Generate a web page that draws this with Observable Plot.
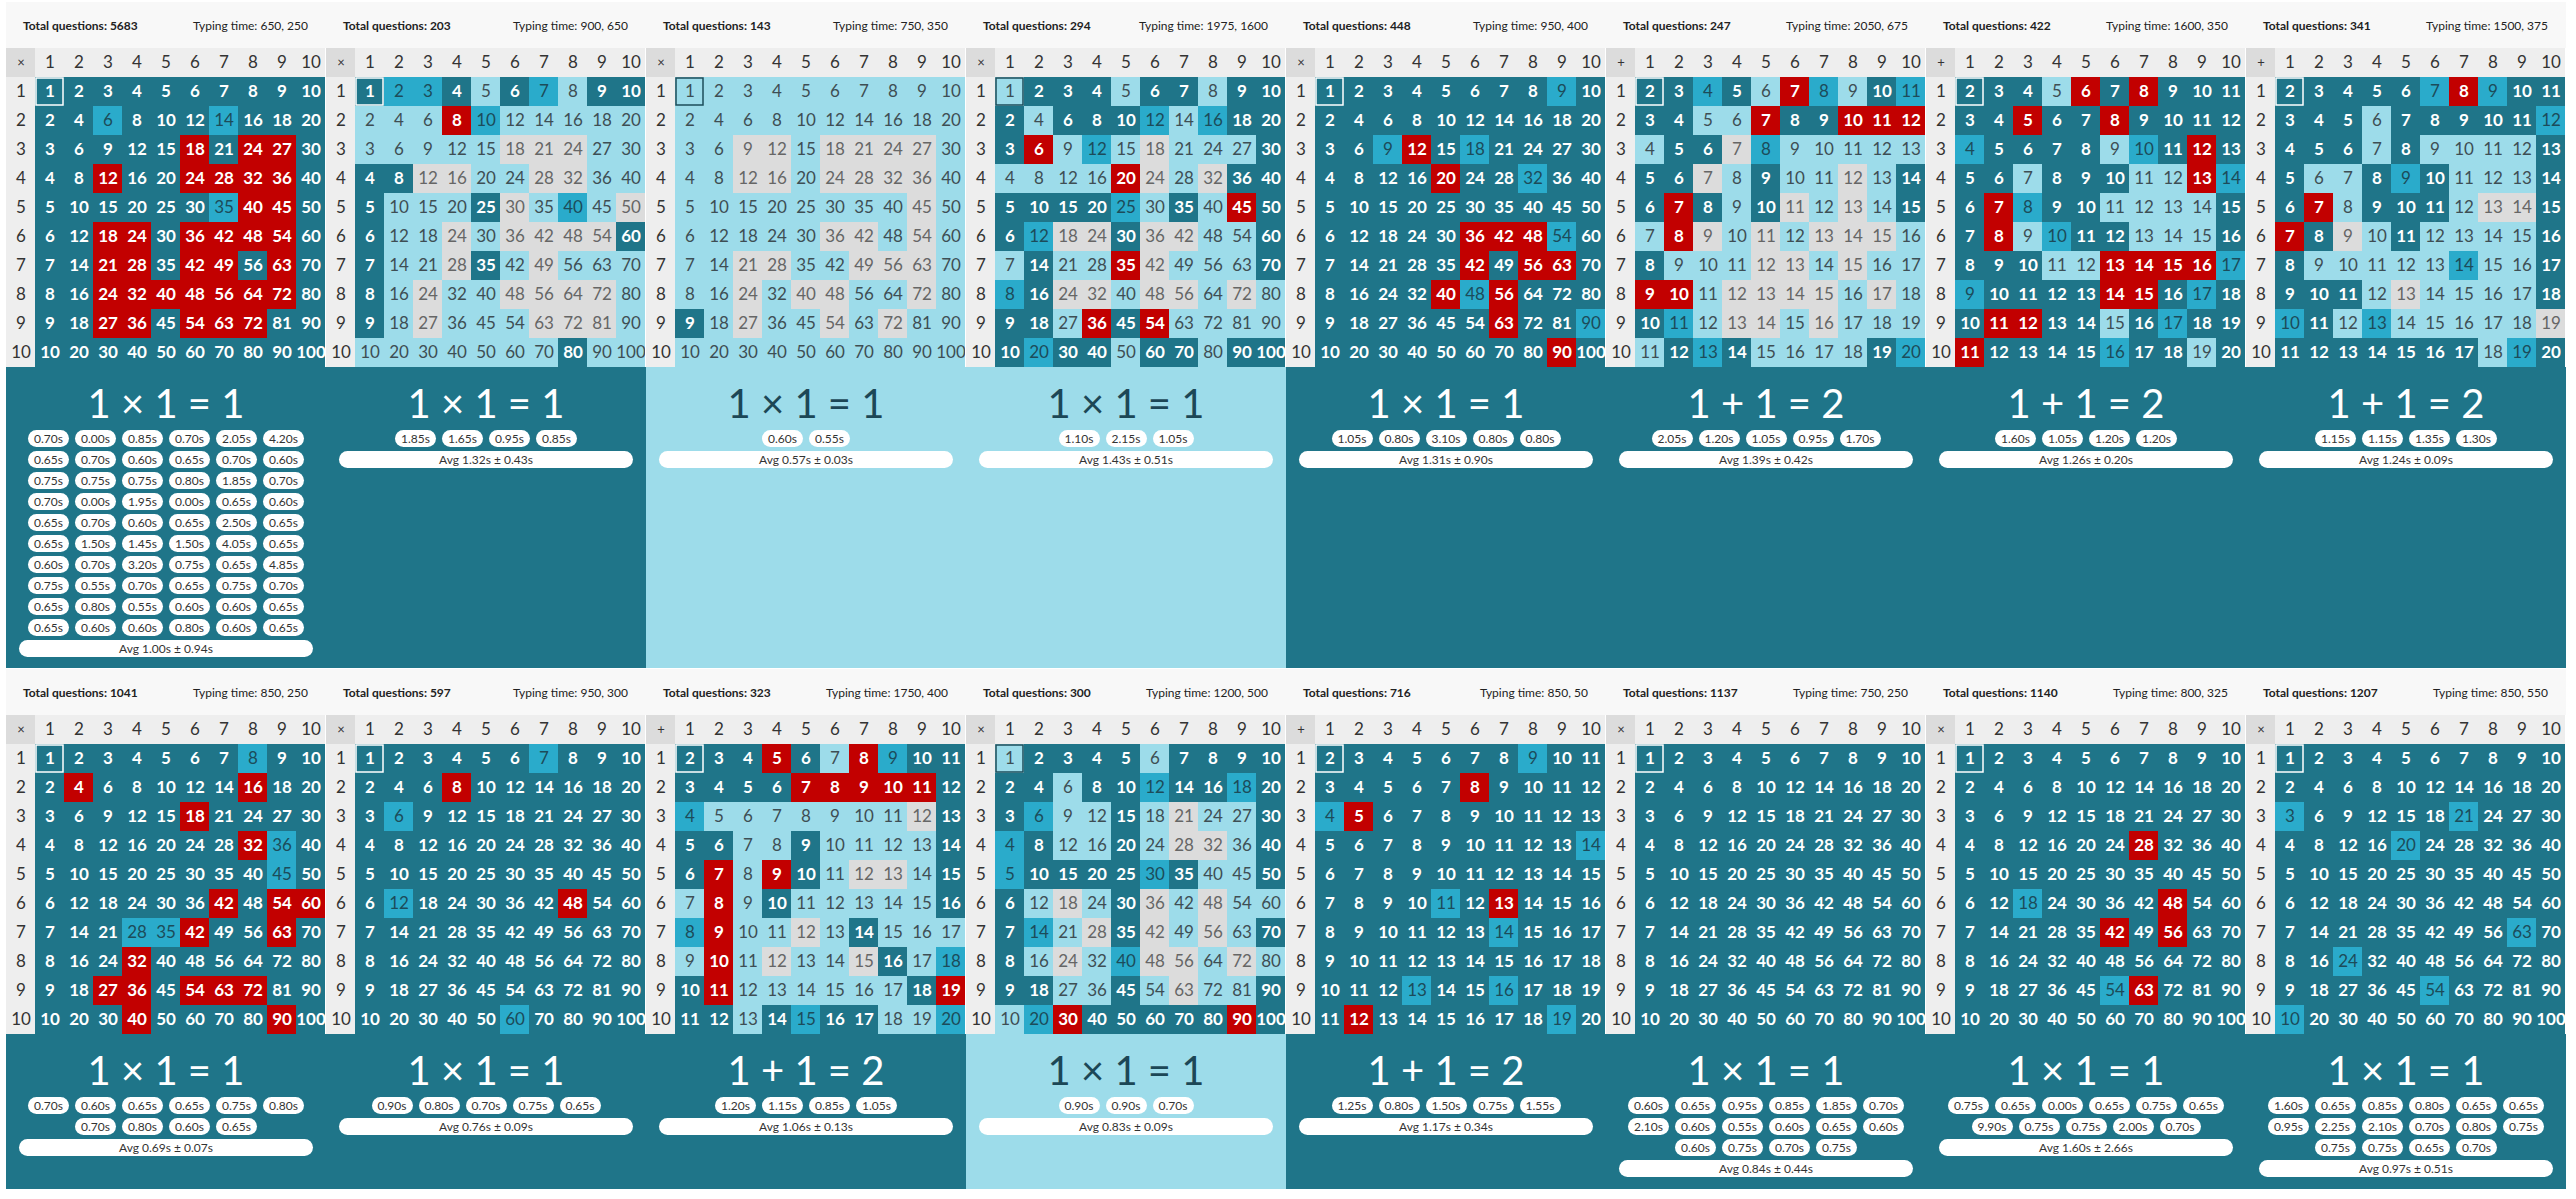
<!DOCTYPE html>
<html><head><meta charset="utf-8">
<script src="https://cdn.jsdelivr.net/npm/d3@7"></script>
<script src="https://cdn.jsdelivr.net/npm/@observablehq/plot@0.6"></script>
<style>
body{margin:0;background:#fff;font-family:Lato,"Noto Sans",sans-serif;}
#root{position:absolute;left:6px;top:2px;}
.row{display:flex;}
.row2{margin-top:1px;}
.panel{width:320px;display:flex;flex-direction:column;}
.hdr{height:46px;background:#f8f8f8;display:flex;justify-content:space-between;align-items:center;padding:0 18px 0 17px;font-size:12px;color:#222;box-sizing:border-box;}
.hdr b{font-weight:700;}
.grid{height:319px;width:320px;background:#fff;}
.grid svg{display:block;}
.bottom{box-sizing:border-box;padding-top:10px;text-align:center;}
.eq{font-size:40px;line-height:52px;height:52px;}
.pills{width:290px;margin:1px auto 0;display:flex;flex-wrap:wrap;justify-content:center;gap:4px 6px;}
.pill{width:41px;height:17px;line-height:17px;border-radius:8.5px;background:#fff;color:#333;font-size:12px;}
.avg{width:294px;height:17px;line-height:17px;border-radius:8.5px;background:#fff;color:#333;font-size:12px;margin:4px auto 0;}
</style>
</head>
<body>
<div id="root"></div>
<script>
// ---- data ----
const labels = [1,2,3,4,5,6,7,8,9,10];
const ops = ["×","×","×","×","×","+","+","+","×","×","+","×","+","×","×","×"];
const totals = [5683,203,143,294,448,247,422,341,1041,597,323,300,716,1137,1140,1207];
const typing = [[650,250],[900,650],[750,350],[1975,1600],[950,400],[2050,675],[1600,350],[1500,375],
                [850,250],[950,300],[1750,400],[1200,500],[850,50],[750,250],[800,325],[850,550]];
// cell categories: D dark, M medium, L light, G gray, R red
const grids = [
 ["DDDDDDDDDD","DDMDDDMDDD","DDDDDRDRRD","DDRDDRRRRD","DDDDDDMRRD","DDRRDRRRRD","DDRRDRRDRD","DDRRRRRRRD","DDRRDRRRDD","DDDDDDDDDD"],
 ["DMMDLDMLDD","LLLRMLLLLL","LLLLLGGGLL","DDGGLLGGLL","DLLLDGLMLG","DLLGLGGGGD","DLLGDLGLLL","DLGLLGGGGL","DLGLLLGGGL","LLLLLLLDLL"],
 ["LLLLLLLLLL","LLLLLLLLLL","LLGGLGGGGL","LLGGLGGGGL","LLLLLLLLGL","LLLLLGGLGL","LLGGLLGGGL","LLGLGGLLGL","DLGLLGLGLL","LLLLLLLLLL"],
 ["LDDDLDDLDD","DLDDDMLMDD","DRLMLGLLLD","LLLLRGLGDD","DDDDMLDLRD","DMGGDGGLLD","LDLLRGLLLD","MDGGLGGLGL","DDLRDRLLLL","DMDDLDDLDD"],
 ["DDDDDDDDMD","DDDDDDDDDD","DDMRDMDDDD","DDDDRDDMDD","DDDDDDDDDD","DDDDDRRRMD","DDDDDRDRRD","DDDDRMRDDD","DDDDDDRDDM","DDDDDDDDRD"],
 ["DDMDLRMLDM","DDLLRDDRRR","LDDGMLLLLL","DDGLDLLGLD","DRDLDGLGLD","LRGLGLGGGL","DLLLGGLGLL","RRLGGGGLGL","DMLGGLGLLL","LDMDLLLLDM"],
 ["DDDLRDRDDD","DDRDDRDDDD","MDDDDLMDRD","DDLDDDLLRM","DRMDDLLLLD","DRLMDDLLLD","DDDLLRRRRM","MDDDDRRDMD","DRRDDLDMDD","RDDDDMDDLD"],
 ["DDDDDMRMDD","DDDLDDDDDM","DDDLDLLLLD","DLLDMDLLLD","DRLDDDLGGD","RDGLDLLLLD","DLLLLLMLLD","DDDLGLLLLD","MDLMLLLLLG","DDDDDDDLMD"],
 ["DDDDDDDMDD","DRDDDDDRDD","DDDDDRDDDD","DDDDDDDRMD","DDDDDDDDMD","DDDDDDRDRR","DDDMMRDDRD","DDDRDDDDDD","DDRRDRRRDD","DDDRDDDDRD"],
 ["DDDDDDMDDD","DDDRDDDDDD","DMDDDDDDDD","DDDDDDDDDD","DDDDDDDDDD","DMDDDDDRDD","DDDDDDDDDD","DDDDDDDDDD","DDDDDDDDDD","DDDDDMDDDD"],
 ["DDDRDLRMDD","DDDDRRRRRD","MLLLLLLLGD","DDLLDLLLLD","DRLRDLGGLD","LRLDLLLLLD","MRLLGLDLLL","LRLGLLGDLM","DRLLLLLLDR","DDLDMDDLLM"],
 ["LDDDDLDDDD","DDLDDMDDMD","DMLLDLGLLD","MDLLDLGGLD","MDDDDMDLLD","DLGLDGLGLL","DMLGDGLGLD","DLGLMGGLGL","DDLLDLGLLD","LMRDDDDDRD"],
 ["DDDDDDDMDD","DDDDDRDDDD","MRDDDDDDDD","DDDDDDDDDM","DDDDDDDDDD","DDDDMDRDDD","DDDDDDMDDD","DDDDDDDDDD","DDDMDDMDDD","DRDDDDDDMD"],
 ["DDDDDDDDDD","DDDDDDDDDD","DDDDDDDDDD","DDDDDDDDDD","DDDDDDDDDD","DDDDDDDDDD","DDDDDDDDDD","DDDDDDDDDD","DDDDDDDDDD","DDDDDDDDDD"],
 ["DDDDDDDDDD","DDDDDDDDDD","DDDDDDDDDD","DDDDDDRDDD","DDDDDDDDDD","DDMDDDDRDD","DDDDDRDRDD","DDDDDDDDDD","DDDDDMRDDD","DDDDDDDDDD"],
 ["DDDDDDDDDD","DDDDDDDDDD","MDDDDDMDDD","DDDDMDDDDD","DDDDDDDDDD","DDDDDDDDDD","DDDDDDDDMD","DDMDDDDDDD","DDDDDMDDDD","MDDDDDDDDD"]
];
const times = [
 [0.70,0.00,0.85,0.70,2.05,4.20,0.65,0.70,0.60,0.65,0.70,0.60,0.75,0.75,0.75,0.80,1.85,0.70,0.70,0.00,1.95,0.00,0.65,0.60,
  0.65,0.70,0.60,0.65,2.50,0.65,0.65,1.50,1.45,1.50,4.05,0.65,0.60,0.70,3.20,0.75,0.65,4.85,0.75,0.55,0.70,0.65,0.75,0.70,
  0.65,0.80,0.55,0.60,0.60,0.65,0.65,0.60,0.60,0.80,0.60,0.65],
 [1.85,1.65,0.95,0.85],
 [0.60,0.55],
 [1.10,2.15,1.05],
 [1.05,0.80,3.10,0.80,0.80],
 [2.05,1.20,1.05,0.95,1.70],
 [1.60,1.05,1.20,1.20],
 [1.15,1.15,1.35,1.30],
 [0.70,0.60,0.65,0.65,0.75,0.80,0.70,0.80,0.60,0.65],
 [0.90,0.80,0.70,0.75,0.65],
 [1.20,1.15,0.85,1.05],
 [0.90,0.90,0.70],
 [1.25,0.80,1.50,0.75,1.55],
 [0.60,0.65,0.95,0.85,1.85,0.70,2.10,0.60,0.55,0.60,0.65,0.60,0.60,0.75,0.70,0.75],
 [0.75,0.65,0.00,0.65,0.75,0.65,9.90,0.75,0.75,2.00,0.70],
 [1.60,0.65,0.85,0.80,0.65,0.65,0.95,2.25,2.10,0.70,0.80,0.75,0.75,0.75,0.65,0.70]
];
const avgMean = [1.00,1.32,0.57,1.43,1.31,1.39,1.26,1.24,0.69,0.76,1.06,0.83,1.17,0.84,1.60,0.97];
const avgSd   = [0.94,0.43,0.03,0.51,0.90,0.42,0.20,0.09,0.07,0.09,0.13,0.09,0.34,0.44,2.66,0.51];
const summaryShade = ["D","D","L","L","D","D","D","D","D","D","D","L","D","D","D","D"];

// ---- styles ----
const palette = {D:"#1f7589", M:"#2aabcb", L:"#9ddcea", G:"#dcdcdc", R:"#c20000", H:"#eeeeee", C:"#dcdcdc"};
const textPalette = {M:"#1c4c5a", L:"#3e4e54", G:"#666666"};
const outline = {D:"#ffffff", M:"#ffffff", R:"#ffffff", L:"#1c4c5a", G:"#1c4c5a"};
const eqColor = {D:"#ffffff", L:"#1c4756"};

function gridPlot(p) {
  const op = ops[p], g = grids[p];
  const hdr = [{r:0, c:0, k:"C", t:op}];
  for (const v of labels) {
    hdr.push({r:0, c:v, k:"H", t:String(v)});
    hdr.push({r:v, c:0, k:"H", t:String(v)});
  }
  const cells = [];
  labels.forEach((r, i) => labels.forEach((c, j) =>
    cells.push({r, c, k:g[i][j], t:String(op === "×" ? r * c : r + c)})));
  const first = cells.filter(d => d.r === 1 && d.c === 1);
  const bright = d => d.k === "D" || d.k === "R";
  return Plot.plot({
    width: 319, height: 319, margin: 0,
    x: {type: "band", domain: [0, ...labels], padding: 0, axis: null},
    y: {type: "band", domain: [0, ...labels], padding: 0, axis: null},
    color: {type: "identity"},
    style: {fontFamily: "Lato", background: "transparent"},
    marks: [
      Plot.cell(hdr, {x: "c", y: "r", fill: d => palette[d.k], inset: 0}),
      Plot.cell(cells, {x: "c", y: "r", fill: d => palette[d.k], inset: 0}),
      Plot.cell(first, {x: "c", y: "r", fill: "none", stroke: d => outline[d.k], strokeWidth: 1.5, inset: 1}),
      Plot.text(hdr.filter(d => d.k === "H"), {x: "c", y: "r", text: "t", fill: "#333", fontSize: 17}),
      Plot.text(hdr.filter(d => d.k === "C"), {x: "c", y: "r", text: "t", fill: "#333", fontSize: 13}),
      Plot.text(cells.filter(bright), {x: "c", y: "r", text: "t", fill: "#ffffff", fontSize: 17, fontWeight: "bold"}),
      Plot.text(cells.filter(d => !bright(d)), {x: "c", y: "r", text: "t", fill: d => textPalette[d.k], fontSize: 17})
    ]
  });
}

const root = document.getElementById("root");
const bottomH = [301, 155];
for (let row = 0; row < 2; row++) {
  const rowEl = document.createElement("div");
  rowEl.className = "row" + (row === 1 ? " row2" : "");
  root.appendChild(rowEl);
  for (let k = 0; k < 8; k++) {
    const p = row * 8 + k;
    const panel = document.createElement("div");
    panel.className = "panel";
    const hdr = document.createElement("div");
    hdr.className = "hdr";
    hdr.innerHTML = `<span><b>Total questions: ${totals[p]}</b></span><span>Typing time: ${typing[p][0]}, ${typing[p][1]}</span>`;
    panel.appendChild(hdr);
    const grid = document.createElement("div");
    grid.className = "grid";
    grid.appendChild(gridPlot(p));
    panel.appendChild(grid);
    const bot = document.createElement("div");
    bot.className = "bottom";
    bot.style.height = bottomH[row] + "px";
    bot.style.background = palette[summaryShade[p]];
    const eq = document.createElement("div");
    eq.className = "eq";
    eq.style.color = eqColor[summaryShade[p]];
    const a = labels[0];
    eq.textContent = `${a} ${ops[p]} ${a} = ${ops[p] === "×" ? a * a : a + a}`;
    bot.appendChild(eq);
    const pills = document.createElement("div");
    pills.className = "pills";
    for (const t of times[p]) {
      const s = document.createElement("div");
      s.className = "pill";
      s.textContent = t.toFixed(2) + "s";
      pills.appendChild(s);
    }
    bot.appendChild(pills);
    const avg = document.createElement("div");
    avg.className = "avg";
    avg.textContent = `Avg ${avgMean[p].toFixed(2)}s ± ${avgSd[p].toFixed(2)}s`;
    bot.appendChild(avg);
    panel.appendChild(bot);
    rowEl.appendChild(panel);
  }
}
</script>
</body></html>
